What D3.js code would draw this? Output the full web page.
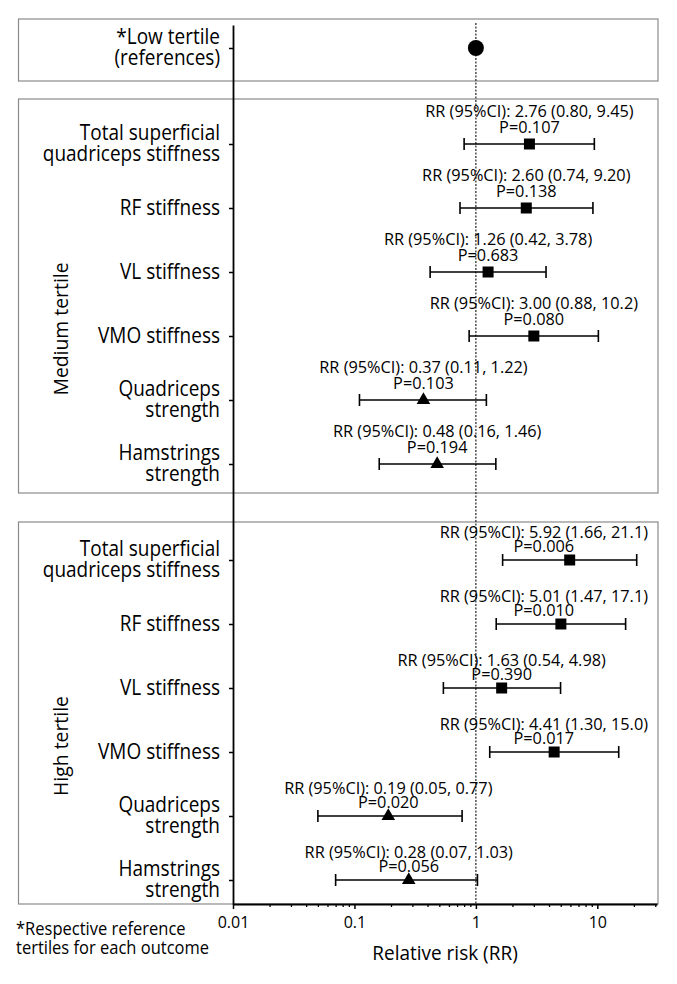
<!DOCTYPE html>
<html><head><meta charset="utf-8">
<script src="https://cdn.jsdelivr.net/npm/d3@7"></script>
<style>
body{margin:0;background:#fff}
svg{display:block}
text{font-family:"Open Sans",sans-serif;fill:#000}
</style>
</head><body>
<svg id="c" width="677" height="984"></svg>
<script>
// ---- data ----
const outcomes = ["Total superficial\nquadriceps stiffness","RF stiffness","VL stiffness","VMO stiffness","Quadriceps\nstrength","Hamstrings\nstrength"];
const markerTypes = ["square","square","square","square","triangle","triangle"];
const mediumRR = [2.76, 2.60, 1.26, 3.00, 0.37, 0.48];
const mediumLo = [0.80, 0.74, 0.42, 0.88, 0.11, 0.16];
const mediumHi = [9.45, 9.20, 3.78, 10.2, 1.22, 1.46];
const mediumP  = ["0.107","0.138","0.683","0.080","0.103","0.194"];
const highRR = [5.92, 5.01, 1.63, 4.41, 0.19, 0.28];
const highLo = [1.66, 1.47, 0.54, 1.30, 0.05, 0.07];
const highHi = [21.1, 17.1, 4.98, 15.0, 0.77, 1.03];
const highP  = ["0.006","0.010","0.390","0.017","0.020","0.056"];
const referenceLabel = "*Low tertile\n(references)";
const referenceRR = 1;
const groupLabels = ["Medium tertile","High tertile"];
const xTickValues = [0.01, 0.1, 1, 10];
const xTickLabels = ["0.01","0.1","1","10"];
const xMinorTicks = [0.02,0.03,0.04,0.05,0.06,0.07,0.08,0.09,0.2,0.3,0.4,0.5,0.6,0.7,0.8,0.9,2,3,4,5,6,7,8,9,20,30];
const xTitle = "Relative risk (RR)";
const footnote = ["*Respective reference","tertiles for each outcome"];

// ---- layout ----
const svg = d3.select("#c");
const x = d3.scaleLog().domain([0.01, 31]).range([233, 657]);
// row positions in row units: reference 0, medium 1.5..6.5, high 8..13
const y = d3.scaleLinear().domain([-23/64, 13.375]).range([25, 904]);
const medRows = d3.range(6).map(i => 1.5 + i);
const highRows = d3.range(6).map(i => 8 + i);

const fmt = v => v >= 10 ? v.toFixed(1) : v.toFixed(2);

// text helper with slight vertical stretch (as in reference)
function label(parent, tx, ty, str, size, anchor, sy) {
  const g = parent.append("g").attr("transform", `translate(${tx},${ty}) scale(1,${sy || 1})`);
  return g.append("text").attr("x",0).attr("y",0).attr("text-anchor", anchor || "start")
    .style("font-size", size + "px").text(str);
}

// panels (boxes)
const panels = [
  {top: y(0) - 29, bottom: y(0) + 33},
  {top: y(medRows[0]) - 45, bottom: y(medRows[5]) + 29, label: groupLabels[0], ann: [-27, -11]},
  {top: y(highRows[0]) - 38, bottom: y(highRows[5]) + 24, label: groupLabels[1], ann: [-22.5, -8.5]}
];
svg.selectAll("rect.panel").data(panels).join("rect")
  .attr("class","panel")
  .attr("x", 18.5).attr("y", d => d.top)
  .attr("width", 658 - 18.5).attr("height", d => d.bottom - d.top)
  .attr("fill","none").attr("stroke","#8a8a8a").attr("stroke-width",1.2);

// group labels (rotated)
svg.selectAll("text.group").data(panels.slice(1)).join("text")
  .attr("class","group")
  .attr("transform", d => `translate(68,${(d.top + d.bottom)/2 + 33}) rotate(-90) scale(1.02,1.08)`)
  .attr("text-anchor","middle")
  .style("font-size","19px")
  .text(d => d.label);

// reference dotted line at RR = 1
svg.append("line")
  .attr("x1", x(referenceRR)).attr("x2", x(referenceRR))
  .attr("y1", 23).attr("y2", y(13.375))
  .attr("stroke","#222").attr("stroke-width",1.2).attr("stroke-dasharray","2,1.5");

// y axis
const yTicks = [0].concat(medRows, highRows);
const yAxis = d3.axisLeft(y).tickValues(yTicks).tickFormat("").tickSize(4).tickSizeOuter(0);
const gy = svg.append("g").attr("transform","translate(233,0)").call(yAxis);
gy.select(".domain").attr("stroke","#000").attr("stroke-width",1.8);
gy.selectAll(".tick line").attr("stroke","#000").attr("stroke-width",1.5);

// x axis
const gx = svg.append("g").attr("transform",`translate(0,${y(13.375)})`)
  .call(d3.axisBottom(x).tickValues(xTickValues).tickFormat((d,i) => xTickLabels[i]).tickSize(5).tickPadding(8).tickSizeOuter(0));
gx.select(".domain").attr("stroke","#000").attr("stroke-width",1.8);
gx.selectAll(".tick line").attr("stroke","#000").attr("stroke-width",1.5);
gx.selectAll(".tick text").style("font-size","16px").style("font-family",'"Open Sans",sans-serif').attr("fill","#000");
const gxm = svg.append("g").attr("transform",`translate(0,${y(13.375)})`)
  .call(d3.axisBottom(x).tickValues(xMinorTicks).tickFormat("").tickSize(3).tickSizeOuter(0));
gxm.select(".domain").remove();
gxm.selectAll(".tick line").attr("stroke","#000").attr("stroke-width",1.3);

label(svg, (233 + 657)/2, 960, xTitle, 19, "middle", 1.06);
footnote.forEach((f,i) => label(svg, 16, 935 + i*18.5, f, 16.5, "start", 1.06));

// category labels
function drawLabel(txt, row) {
  const lines = txt.split("\n");
  const yy = y(row);
  if (lines.length === 1) {
    label(svg, 220, yy + 7, lines[0], 19, "end", 1.1);
  } else {
    lines.forEach((l,i) => label(svg, 220, yy - 4 + i*21, l, 19, "end", 1.1));
  }
}
drawLabel(referenceLabel, 0);
outcomes.forEach((o,i) => { drawLabel(o, medRows[i]); drawLabel(o, highRows[i]); });

// reference marker
svg.append("path").attr("transform",`translate(${x(referenceRR)},${y(0)})`)
  .attr("d", d3.symbol(d3.symbolCircle, Math.PI*8*8)());

// estimates
function drawGroup(rows, rr, lo, hi, p, panel) {
  rows.forEach((r,i) => {
    const yy = y(r);
    const g = svg.append("g");
    g.append("line").attr("x1", x(lo[i])).attr("x2", x(hi[i])).attr("y1", yy).attr("y2", yy)
      .attr("stroke","#000").attr("stroke-width",1.6);
    [lo[i], hi[i]].forEach(v => g.append("line").attr("x1", x(v)).attr("x2", x(v))
      .attr("y1", yy - 6).attr("y2", yy + 6).attr("stroke","#000").attr("stroke-width",1.6));
    const sym = markerTypes[i] === "square" ? d3.symbol(d3.symbolSquare, 121) : d3.symbol(d3.symbolTriangle, 80);
    g.append("path").attr("transform",`translate(${x(rr[i])},${yy})`).attr("d", sym());
    const t1 = label(g, 0, 0, `RR (95%CI): ${fmt(rr[i])} (${fmt(lo[i])}, ${fmt(hi[i])})`, 16.3, "middle", 1.05);
    const w = t1.node().getComputedTextLength();
    const cx = Math.min(x(rr[i]), 648 - w/2);
    d3.select(t1.node().parentNode).attr("transform", `translate(${cx},${yy + panel.ann[0]}) scale(1,1.05)`);
    label(g, cx, yy + panel.ann[1], `P=${p[i]}`, 16.3, "middle", 1.05);
  });
}
drawGroup(medRows, mediumRR, mediumLo, mediumHi, mediumP, panels[1]);
drawGroup(highRows, highRR, highLo, highHi, highP, panels[2]);
</script>
</body></html>
